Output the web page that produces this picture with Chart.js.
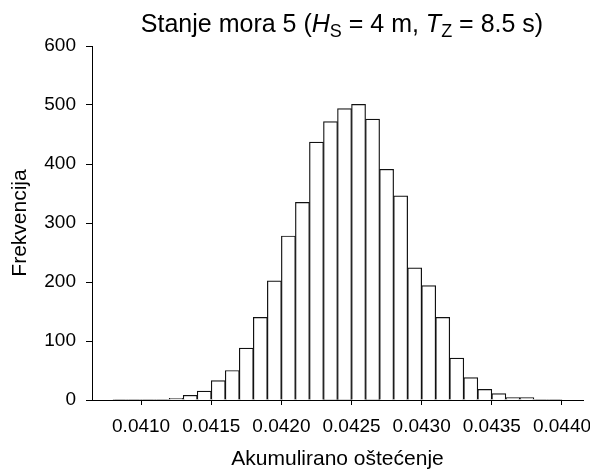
<!DOCTYPE html>
<html>
<head>
<meta charset="utf-8">
<script src="https://cdn.jsdelivr.net/npm/chart.js@4"></script>
<style>
  body { margin: 0; background: #fff; }
  #wrap { width: 590px; height: 473px; }
</style>
</head>
<body>
<div id="wrap"><canvas id="histChart" width="590" height="473"></canvas></div>
<script>
// histogram bins (centre of each 0.0001 wide bin) and counts
const binCenters = [
  0.04085, 0.04095, 0.04105, 0.04115, 0.04125, 0.04135, 0.04145, 0.04155,
  0.04165, 0.04175, 0.04185, 0.04195, 0.04205, 0.04215, 0.04225, 0.04235,
  0.04245, 0.04255, 0.04265, 0.04275, 0.04285, 0.04295, 0.04305, 0.04315,
  0.04325, 0.04335, 0.04345, 0.04355, 0.04365, 0.04375, 0.04385, 0.04395
];
const counts = [
  1, 1, 1, 1, 3, 8, 15, 33,
  50, 88, 140, 202, 278, 335, 437, 472,
  494, 501, 476, 391, 346, 224, 194, 140,
  71, 38, 18, 11, 4, 4, 1, 1
];
const xTicks = [0.0410, 0.0415, 0.0420, 0.0425, 0.0430, 0.0435, 0.0440];
const yTicks = [0, 100, 200, 300, 400, 500, 600];

const FONT = '"Liberation Sans", Arial, sans-serif';

// title with italic symbols and subscripts
const titleRuns = [
  { text: 'Stanje mora 5 (', kind: 'normal' },
  { text: 'H', kind: 'italic' },
  { text: 'S', kind: 'sub' },
  { text: ' = 4 m, ', kind: 'normal' },
  { text: 'T', kind: 'italic' },
  { text: 'Z', kind: 'sub' },
  { text: ' = 8.5 s)', kind: 'normal' }
];

const titlePlugin = {
  id: 'richTitle',
  afterDraw(chart) {
    const ctx = chart.ctx;
    const size = 25, subSize = 18;
    const fontFor = k => k === 'italic' ? `italic ${size}px ${FONT}`
      : k === 'sub' ? `${subSize}px ${FONT}` : `${size}px ${FONT}`;
    ctx.save();
    ctx.fillStyle = '#000';
    ctx.textBaseline = 'alphabetic';
    ctx.textAlign = 'left';
    let total = 0;
    titleRuns.forEach(r => { ctx.font = fontFor(r.kind); total += ctx.measureText(r.text).width; });
    let x = 342 - total / 2;
    const y = 32;
    titleRuns.forEach(r => {
      ctx.font = fontFor(r.kind);
      ctx.fillText(r.text, x, r.kind === 'sub' ? y + 5 : y);
      x += ctx.measureText(r.text).width;
    });
    ctx.restore();
  }
};

const points = binCenters.map((c, i) => ({ x: c, y: counts[i] }));

const chart = new Chart(document.getElementById('histChart'), {
  type: 'bar',
  data: {
    datasets: [{
      data: points,
      backgroundColor: '#ffffff',
      borderColor: '#111',
      borderWidth: 1.2,
      borderSkipped: 'bottom',
      barPercentage: 1,
      categoryPercentage: 1
    }]
  },
  options: {
    responsive: false,
    animation: false,
    layout: { padding: { left: 0, right: 7, top: 46, bottom: 0 } },
    plugins: { legend: { display: false }, tooltip: { enabled: false } },
    scales: {
      x: {
        type: 'linear',
        min: 0.04065,
        max: 0.04415,
        offset: false,
        afterBuildTicks: s => { s.ticks = xTicks.map(v => ({ value: v })); },
        afterFit: s => { s.height = 73; s.paddingLeft = 0; s.paddingRight = 0; },
        grid: { offset: false, drawOnChartArea: false, drawTicks: true, tickLength: 5, color: '#000' },
        border: { display: true, color: '#000', width: 1 },
        ticks: {
          autoSkip: false, maxRotation: 0, padding: 10, color: '#000',
          font: { family: FONT, size: 19 },
          callback: v => v.toFixed(4)
        },
        title: {
          display: true, text: 'Akumulirano oštećenje', color: '#000',
          font: { family: FONT, size: 21 }, padding: { top: 0, bottom: 1 }
        }
      },
      y: {
        min: 0,
        max: 600,
        afterBuildTicks: s => { s.ticks = yTicks.map(v => ({ value: v })); },
        afterFit: s => { s.width = 92; s.paddingTop = 0; s.paddingBottom = 0; },
        grid: { drawOnChartArea: false, drawTicks: true, tickLength: 6, color: '#000' },
        border: { display: true, color: '#000', width: 1 },
        ticks: { padding: 10, color: '#000', font: { family: FONT, size: 19 } },
        title: {
          display: true, text: 'Frekvencija', color: '#000',
          font: { family: FONT, size: 21 }, padding: { top: 8, bottom: 0 }
        }
      }
    }
  },
  plugins: [titlePlugin]
});
</script>
</body>
</html>
